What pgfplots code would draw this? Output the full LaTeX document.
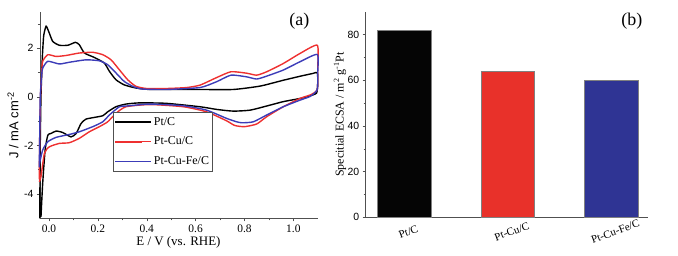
\documentclass[border=0pt]{standalone}
\usepackage{pgfplots}
\pgfplotsset{compat=1.18}
\usepackage{fontspec}
\setmainfont{Liberation Serif}
\newfontfamily\sansf{Liberation Sans}
\definecolor{cvred}{HTML}{EE3030}
\definecolor{cvblue}{HTML}{3C3CB8}
\definecolor{barred}{HTML}{E8312A}
\definecolor{barblue}{HTML}{2F3494}
\definecolor{axgray}{HTML}{505050}
\begin{document}
\begin{tikzpicture}
\path[use as bounding box] (-40bp,-37.7bp) rectangle (638bp,218.3bp);
% ---------------- (a) ----------------
\begin{axis}[
  at={(0,0)}, anchor=south west,
  scale only axis, width=278bp, height=206.6bp,
  xmin=-0.037, xmax=1.101, ymin=-5, ymax=3.5,
  axis x line*=bottom, axis y line*=left,
  axis line style={axgray, line width=0.6pt},
  tick align=outside, tick style={axgray, line width=0.5pt},
  major tick length=3bp, minor tick length=2bp,
  xtick={0,0.2,0.4,0.6,0.8,1.0}, minor x tick num=1,
  ytick={-4,-2,0,2}, minor ytick={-3,-1,1,3},
  xticklabels={0.0,0.2,0.4,0.6,0.8,1.0},
  xticklabel style={font=\fontsize{11.5}{13}\selectfont, /pgf/number format/assume math mode=true},
  yticklabel style={font=\sansf\fontsize{10.5}{12}\selectfont, /pgf/number format/assume math mode=true},
  yticklabels={-4,-2,0,2},
  xlabel={E / V (vs. RHE)},
  xlabel style={font=\fontsize{13}{15}\selectfont, at={(axis description cs:0.498,-0.115)}, anchor=center},
  ylabel={J / mA cm\textsuperscript{-2}},
  ylabel style={font=\sansf\fontsize{13}{15}\selectfont, at={(axis description cs:-0.097,0.45)}, anchor=center, rotate=0},
  legend style={at={(rel axis cs:0.263,0.515)}, anchor=north west, draw=axgray, line width=0.4pt,
    font=\fontsize{12}{14}\selectfont, inner xsep=1bp, inner ysep=3bp, row sep=6.5bp},
  legend cell align=left,
  legend image code/.code={\draw[#1, line width=1.8pt] (0bp,0) -- (27bp,0); \path (0,0) -- (36bp,0);},
  every axis plot/.append style={line width=1.4pt, smooth, tension=0.35},
  clip=false,
]
\addplot[black] coordinates {
(-0.038,-5.0) (-0.036,-2.0) (-0.033,0.0) (-0.028,1.5) (-0.022,2.5) (-0.012,2.90)
(0.000,2.65) (0.015,2.28) (0.042,2.12) (0.077,2.12) (0.108,2.24) (0.124,2.14)
(0.145,1.80) (0.185,1.62) (0.226,1.39) (0.247,1.05) (0.274,0.70) (0.308,0.49)
(0.356,0.36) (0.413,0.30) (0.52,0.30) (0.618,0.30) (0.754,0.30) (0.864,0.44)
(0.959,0.68) (1.03,0.85) (1.08,0.96) (1.098,0.99)
(1.100,0.6) (1.095,0.15) (1.06,0.02) (1.027,-0.07) (0.959,-0.20) (0.891,-0.38)
(0.823,-0.55) (0.754,-0.59) (0.686,-0.52) (0.618,-0.41) (0.48,-0.27)
(0.372,-0.25) (0.315,-0.30) (0.274,-0.41) (0.24,-0.62) (0.22,-0.78)
(0.185,-0.85) (0.151,-0.92) (0.131,-1.10) (0.111,-1.51) (0.09,-1.65)
(0.056,-1.47) (0.029,-1.41) (0.008,-1.51) (-0.005,-1.58) (-0.016,-2.19)
(-0.026,-3.56) (-0.033,-4.94)
};
\addlegendentry{Pt/C}
\addplot[cvred] coordinates {
(-0.040,-3.4) (-0.038,-1.5) (-0.035,0.0) (-0.030,1.0) (-0.026,1.46) (-0.005,1.73)
(0.029,1.66) (0.07,1.70) (0.124,1.80) (0.179,1.83) (0.22,1.73) (0.254,1.52)
(0.288,1.11) (0.322,0.70) (0.356,0.43) (0.40,0.34) (0.48,0.34) (0.563,0.38)
(0.618,0.48) (0.686,0.79) (0.745,1.03) (0.809,0.97) (0.85,0.89) (0.891,1.03)
(0.959,1.37) (1.027,1.78) (1.098,2.12)
(1.100,1.2) (1.098,0.3) (1.07,0.08) (1.027,-0.07) (0.959,-0.41) (0.891,-0.82)
(0.85,-1.12) (0.80,-1.23) (0.76,-1.18) (0.727,-0.99) (0.645,-0.62) (0.55,-0.41)
(0.413,-0.32) (0.315,-0.41) (0.274,-0.68) (0.24,-1.03) (0.206,-1.23)
(0.165,-1.44) (0.124,-1.71) (0.083,-1.89) (0.042,-1.92) (0.001,-2.06)
(-0.019,-2.33) (-0.033,-3.29) (-0.040,-3.5)
};
\addlegendentry{Pt-Cu/C}
\addplot[cvblue] coordinates {
(-0.040,-2.9) (-0.038,-1.5) (-0.036,0.0) (-0.030,0.9) (-0.026,1.18) (-0.005,1.46)
(0.042,1.35) (0.083,1.42) (0.151,1.52) (0.206,1.48) (0.24,1.32) (0.274,0.98)
(0.308,0.63) (0.343,0.43) (0.38,0.32) (0.48,0.30) (0.618,0.38) (0.686,0.62)
(0.745,0.89) (0.809,0.82) (0.85,0.73) (0.891,0.85) (0.959,1.10) (1.027,1.44)
(1.098,1.74)
(1.100,1.0) (1.098,0.3) (1.07,0.02) (1.027,-0.14) (0.959,-0.41) (0.891,-0.75)
(0.836,-1.03) (0.79,-1.07) (0.768,-1.03) (0.727,-0.89) (0.645,-0.55)
(0.55,-0.37) (0.413,-0.30) (0.318,-0.38) (0.288,-0.41) (0.247,-0.75)
(0.22,-1.03) (0.179,-1.23) (0.124,-1.44) (0.083,-1.55) (0.029,-1.67)
(-0.005,-1.85) (-0.026,-2.19) (-0.040,-2.80)
};
\addlegendentry{Pt-Cu-Fe/C}
\node[font=\fontsize{18}{20}\selectfont] at (rel axis cs:0.933,0.952) {(a)};
\end{axis}
% ---------------- (b) ----------------
\begin{axis}[
  at={(325.7bp,1bp)}, anchor=south west,
  scale only axis, width=282.3bp, height=205.6bp,
  xmin=-0.373, xmax=2.355, ymin=0, ymax=90,
  axis x line*=bottom, axis y line*=left,
  axis line style={axgray, line width=0.6pt},
  tick align=outside, tick style={axgray, line width=0.5pt},
  major tick length=3bp, minor tick length=2bp,
  ytick={0,20,40,60,80}, minor y tick num=1,
  yticklabels={0,20,40,60,80},
  yticklabel style={font=\sansf\fontsize{10.5}{12}\selectfont},
  xtick={0,1,2}, xticklabels={Pt/C,Pt-Cu/C,Pt-Cu-Fe/C},
  xtick style={draw=none},
  xticklabel style={font=\fontsize{11}{12}\selectfont, rotate=20, anchor=center, yshift=-12bp},
  ylabel={Specitial ECSA / m\textsuperscript{2} g\textsuperscript{-1}Pt},
  ylabel style={font=\fontsize{12}{14}\selectfont, at={(axis description cs:-0.091,0.5)}, anchor=center},
  ybar, bar width=0.52, bar shift=0pt,
  clip=false,
]
\addplot[fill=black!98, draw=gray, line width=0.4pt] coordinates {(0,82.0)};
\addplot[fill=barred, draw=gray, line width=0.4pt] coordinates {(1,64.1)};
\addplot[fill=barblue, draw=gray, line width=0.4pt] coordinates {(2,59.9)};
\node[font=\fontsize{18}{20}\selectfont] at (rel axis cs:0.943,0.952) {(b)};
\end{axis}
\end{tikzpicture}
\end{document}
